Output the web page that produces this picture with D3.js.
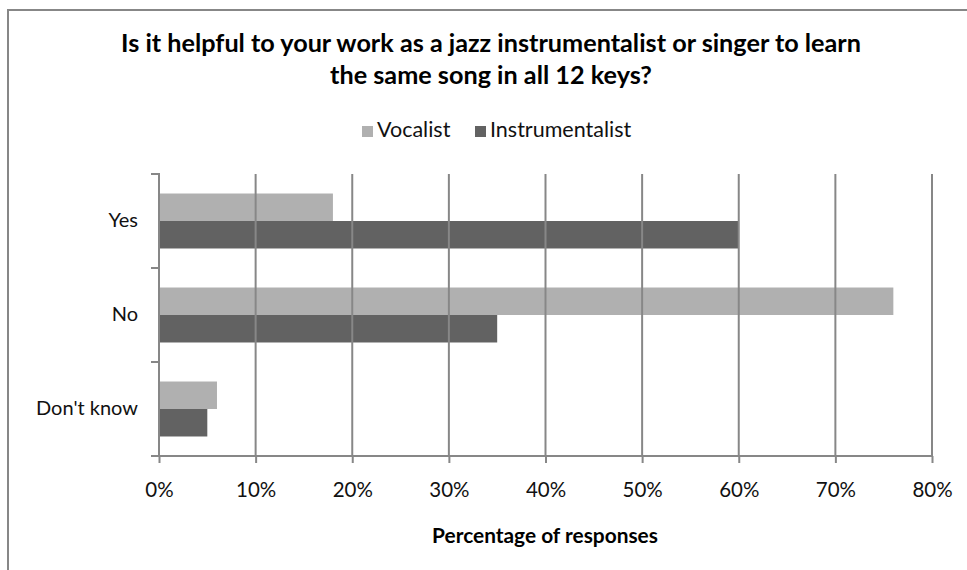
<!DOCTYPE html>
<html>
<head>
<meta charset="utf-8">
<script src="https://cdn.jsdelivr.net/npm/d3@7"></script>
<style>
  html, body { margin: 0; padding: 0; background: #fff; }
  svg { display: block; }
</style>
</head>
<body>
<svg id="chart" width="967" height="570"></svg>
<script>
const categories = ["Yes", "No", "Don't know"];
const seriesNames = ["Vocalist", "Instrumentalist"];
const vocalist = [0.18, 0.76, 0.06];
const instrumentalist = [0.60, 0.35, 0.05];
const xTicks = [0, 0.1, 0.2, 0.3, 0.4, 0.5, 0.6, 0.7, 0.8];
const titleLines = ["Is it helpful to your work as a jazz instrumentalist or singer to learn",
                    "the same song in all 12 keys?"];
const xAxisTitle = "Percentage of responses";
const colors = ["#b0b0b0", "#626262"];

const FONT = "Lato, 'Open Sans', sans-serif";
const svg = d3.select("#chart");
const gridColor = "#878787";

// frame
svg.append("rect").attr("x", 8).attr("y", 10).attr("width", 1000).attr("height", 600)
  .attr("fill", "none").attr("stroke", gridColor).attr("stroke-width", 2);

function fit(sel, w) {
  const fs = +sel.attr("font-size");
  const l = sel.node().getComputedTextLength();
  sel.attr("font-size", fs * w / l);
  return fs * w / l;
}

// title
const t1 = svg.append("text").attr("x", 491).attr("y", 52).attr("text-anchor", "middle")
  .attr("font-family", FONT).attr("font-weight", "bold").attr("font-size", 22).attr("fill", "#000")
  .text(titleLines[0]);
const tfs = fit(t1, 740);
svg.append("text").attr("x", 491).attr("y", 84).attr("text-anchor", "middle")
  .attr("font-family", FONT).attr("font-weight", "bold").attr("font-size", tfs).attr("fill", "#000")
  .text(titleLines[1]);

// scales
const x = d3.scaleLinear().domain([0, 0.8]).range([159, 932]);
const y = d3.scaleBand().domain(categories).range([174, 456]).paddingInner(0).paddingOuter(0);
const ys = d3.scaleBand().domain(seriesNames).range([0, y.bandwidth()]).paddingInner(0).paddingOuter(0.71);

const data = categories.map((c, i) => ({ cat: c, vals: [vocalist[i], instrumentalist[i]] }));

// bars
const g = svg.append("g");
data.forEach(d => {
  d.vals.forEach((v, j) => {
    g.append("rect")
      .attr("x", x(0))
      .attr("y", y(d.cat) + ys(seriesNames[j]))
      .attr("width", x(v) - x(0))
      .attr("height", ys.bandwidth())
      .attr("fill", colors[j]);
  });
});

// gridlines (drawn over bars as in reference)
const grid = svg.append("g");
xTicks.slice(1).forEach(t => {
  grid.append("line").attr("x1", x(t)).attr("x2", x(t)).attr("y1", 174).attr("y2", 456)
    .attr("stroke", gridColor).attr("stroke-width", 2);
});

// x axis
const xAxis = d3.axisBottom(x).tickValues(xTicks).tickFormat(d3.format(".0%")).tickSize(7).tickPadding(14);
const xg = svg.append("g").attr("transform", "translate(0,456)").call(xAxis);
xg.select(".domain").remove();
xg.append("line").attr("x1", 151).attr("x2", 932).attr("y1", 0).attr("y2", 0)
  .attr("stroke", gridColor).attr("stroke-width", 2);
xg.selectAll(".tick line").attr("stroke", gridColor).attr("stroke-width", 2);
xg.selectAll(".tick text").attr("font-family", FONT).attr("font-size", 20.5).attr("fill", "#111")
  .attr("dy", null).attr("y", 41);

// y axis
const yAxis = d3.axisLeft(y).tickSize(0).tickPadding(21);
const yg = svg.append("g").attr("transform", "translate(159,0)").call(yAxis);
yg.select(".domain").remove();
yg.append("line").attr("x1", 0).attr("x2", 0).attr("y1", 173).attr("y2", 457)
  .attr("stroke", gridColor).attr("stroke-width", 2);
yg.selectAll(".tick text").attr("font-family", FONT).attr("font-size", 20).attr("fill", "#111")
  .attr("dy", "0.32em");
const bounds = [...categories.map(c => y(c)), y.range()[1]];
bounds.forEach(b => {
  yg.append("line").attr("x1", -8).attr("x2", 0).attr("y1", b).attr("y2", b)
    .attr("stroke", gridColor).attr("stroke-width", 2);
});

// axis title
const at = svg.append("text").attr("x", 545).attr("y", 543).attr("text-anchor", "middle")
  .attr("font-family", FONT).attr("font-weight", "bold").attr("font-size", 18).attr("fill", "#000")
  .text(xAxisTitle);
fit(at, 226);

// legend
const leg = svg.append("g");
const legX = [362, 475];
seriesNames.forEach((s, i) => {
  leg.append("rect").attr("x", legX[i]).attr("y", 126).attr("width", 11).attr("height", 11)
    .attr("fill", colors[i]);
  leg.append("text").attr("x", legX[i] + 15).attr("y", 137)
    .attr("font-family", FONT).attr("font-size", 21.5).attr("fill", "#111").text(s);
});
</script>
</body>
</html>
